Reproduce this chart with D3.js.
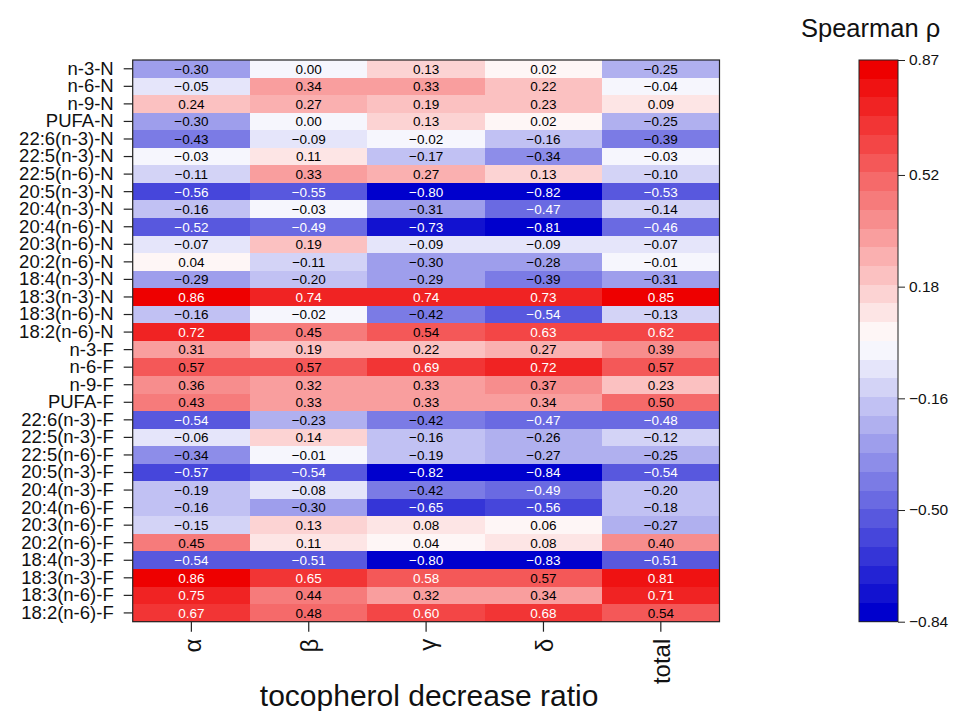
<!DOCTYPE html>
<html>
<head>
<meta charset="utf-8">
<script src="https://cdn.jsdelivr.net/npm/d3@7"></script>
<style>
  body { margin: 0; background: #fff; }
  text { font-family: "Liberation Sans", Arial, sans-serif; }
</style>
</head>
<body>
<div class="canvas"></div>
<script>
const rowNames = ["n-3-N","n-6-N","n-9-N","PUFA-N","22:6(n-3)-N","22:5(n-3)-N","22:5(n-6)-N",
  "20:5(n-3)-N","20:4(n-3)-N","20:4(n-6)-N","20:3(n-6)-N","20:2(n-6)-N","18:4(n-3)-N",
  "18:3(n-3)-N","18:3(n-6)-N","18:2(n-6)-N",
  "n-3-F","n-6-F","n-9-F","PUFA-F","22:6(n-3)-F","22:5(n-3)-F","22:5(n-6)-F",
  "20:5(n-3)-F","20:4(n-3)-F","20:4(n-6)-F","20:3(n-6)-F","20:2(n-6)-F","18:4(n-3)-F",
  "18:3(n-3)-F","18:3(n-6)-F","18:2(n-6)-F"];
const colNames = ["α","β","γ","δ","total"];

// one array per column, same order as rowNames
const alpha = [-0.30,-0.05,0.24,-0.30,-0.43,-0.03,-0.11,-0.56,-0.16,-0.52,-0.07,0.04,-0.29,0.86,-0.16,0.72,
  0.31,0.57,0.36,0.43,-0.54,-0.06,-0.34,-0.57,-0.19,-0.16,-0.15,0.45,-0.54,0.86,0.75,0.67];
const beta = [0.00,0.34,0.27,0.00,-0.09,0.11,0.33,-0.55,-0.03,-0.49,0.19,-0.11,-0.20,0.74,-0.02,0.45,
  0.19,0.57,0.32,0.33,-0.23,0.14,-0.01,-0.54,-0.08,-0.30,0.13,0.11,-0.51,0.65,0.44,0.48];
const gamma = [0.13,0.33,0.19,0.13,-0.02,-0.17,0.27,-0.80,-0.31,-0.73,-0.09,-0.30,-0.29,0.74,-0.42,0.54,
  0.22,0.69,0.33,0.33,-0.42,-0.16,-0.19,-0.82,-0.42,-0.65,0.08,0.04,-0.80,0.58,0.32,0.60];
const delta = [0.02,0.22,0.23,0.02,-0.16,-0.34,0.13,-0.82,-0.47,-0.81,-0.09,-0.28,-0.39,0.73,-0.54,0.63,
  0.27,0.72,0.37,0.34,-0.47,-0.26,-0.27,-0.84,-0.49,-0.56,0.06,0.08,-0.83,0.57,0.34,0.68];
const total = [-0.25,-0.04,0.09,-0.25,-0.39,-0.03,-0.10,-0.53,-0.14,-0.46,-0.07,-0.01,-0.31,0.85,-0.13,0.62,
  0.39,0.57,0.23,0.50,-0.48,-0.12,-0.25,-0.54,-0.20,-0.18,-0.27,0.40,-0.51,0.81,0.71,0.54];

const legendTicks = [0.87, 0.52, 0.18, -0.16, -0.50, -0.84];
const rhoRange = [-0.84, 0.87];
const nBins = 30;

const columns = [alpha, beta, gamma, delta, total];
const cells = [];
columns.forEach((vals, j) => vals.forEach((v, i) => cells.push({row: rowNames[i], col: colNames[j], value: v})));

const W = 957, H = 711;
const plot = {left: 132.7, right: 719.5, top: 60, bottom: 621.7};

const svg = d3.select(".canvas").append("svg")
  .attr("width", W).attr("height", H);

const x = d3.scaleBand().domain(colNames).range([plot.left, plot.right]);
const y = d3.scaleBand().domain(rowNames).range([plot.top, plot.bottom]);

const palette = d3.quantize(d3.piecewise(d3.interpolateRgb, ["#0000CD", "#FFFFFF", "#EE0000"]), nBins);
const color = d3.scaleQuantize().domain(rhoRange).range(palette);
const fmt = d3.format(".2f");

// cells
const graph = svg.append("g");
graph.selectAll("rect")
  .data(cells)
  .enter().append("rect")
  .attr("x", d => x(d.col))
  .attr("y", d => y(d.row))
  .attr("width", x.bandwidth())
  .attr("height", y.bandwidth())
  .attr("fill", d => color(d.value))
  .attr("shape-rendering", "crispEdges");

graph.selectAll("text")
  .data(cells)
  .enter().append("text")
  .attr("x", d => x(d.col) + x.bandwidth() / 2)
  .attr("y", d => y(d.row) + y.bandwidth() / 2)
  .attr("dy", "0.36em")
  .attr("text-anchor", "middle")
  .attr("font-size", 13.5)
  .attr("fill", d => (d.value <= -0.45 || d.value >= 0.58) ? "#fff" : "#000")
  .text(d => fmt(d.value));

svg.append("rect")
  .attr("x", plot.left).attr("y", plot.top)
  .attr("width", plot.right - plot.left).attr("height", plot.bottom - plot.top)
  .attr("fill", "none").attr("stroke", "#222").attr("stroke-width", 1.2);

// y axis
const yAxis = svg.append("g")
  .attr("transform", `translate(${plot.left},0)`)
  .call(d3.axisLeft(y).tickSize(9).tickSizeOuter(0).tickPadding(10));
yAxis.select(".domain").remove();
yAxis.selectAll("line").attr("stroke", "#222").attr("stroke-width", 1.2);
yAxis.selectAll("text").attr("font-size", 18.5).attr("fill", "#111")
  .attr("font-family", "'Liberation Sans', Arial, sans-serif");

// x axis
const xAxis = svg.append("g")
  .attr("transform", `translate(0,${plot.bottom})`)
  .call(d3.axisBottom(x).tickSize(10).tickSizeOuter(0));
xAxis.select(".domain").remove();
xAxis.selectAll("line").attr("stroke", "#222").attr("stroke-width", 1.2);
xAxis.selectAll("text")
  .attr("font-size", 24).attr("fill", "#111")
  .attr("font-family", "'Liberation Sans', Arial, sans-serif")
  .attr("transform", "translate(0,17) rotate(-90)")
  .attr("text-anchor", "end")
  .attr("x", 0).attr("y", 0).attr("dy", "0.4em");

svg.append("text")
  .attr("x", (plot.left + plot.right) / 2 + 3)
  .attr("y", 706)
  .attr("text-anchor", "middle")
  .attr("font-size", 30)
  .attr("fill", "#111")
  .text("tocopherol decrease ratio");

// legend
const leg = {x: 859, w: 39, top: 60, bottom: 621.7};
const ly = d3.scaleLinear().domain(rhoRange).range([leg.bottom, leg.top]);
const binW = (rhoRange[1] - rhoRange[0]) / nBins;
const bins = d3.range(nBins).map(i => ({lo: rhoRange[0] + i * binW, hi: rhoRange[0] + (i + 1) * binW, c: palette[i]}));

const legendGroup = svg.append("g");
legendGroup.selectAll("rect")
  .data(bins)
  .enter().append("rect")
  .attr("x", leg.x)
  .attr("y", d => ly(d.hi))
  .attr("width", leg.w)
  .attr("height", d => ly(d.lo) - ly(d.hi))
  .attr("fill", d => d.c)
  .attr("shape-rendering", "crispEdges");
legendGroup.append("rect")
  .attr("x", leg.x).attr("y", leg.top)
  .attr("width", leg.w).attr("height", leg.bottom - leg.top)
  .attr("fill", "none").attr("stroke", "#222").attr("stroke-width", 1);

const lAxis = legendGroup.append("g")
  .attr("transform", `translate(${leg.x + leg.w},0)`)
  .call(d3.axisRight(ly).tickValues(legendTicks).tickFormat(fmt).tickSize(7).tickSizeOuter(0).tickPadding(4));
lAxis.select(".domain").remove();
lAxis.selectAll("line").attr("stroke", "#222");
lAxis.selectAll("text").attr("font-size", 15.5).attr("fill", "#111")
  .attr("font-family", "'Liberation Sans', Arial, sans-serif");

svg.append("text")
  .attr("x", 801).attr("y", 37)
  .attr("font-size", 25.5)
  .attr("fill", "#111")
  .text("Spearman ρ");
</script>
</body>
</html>
